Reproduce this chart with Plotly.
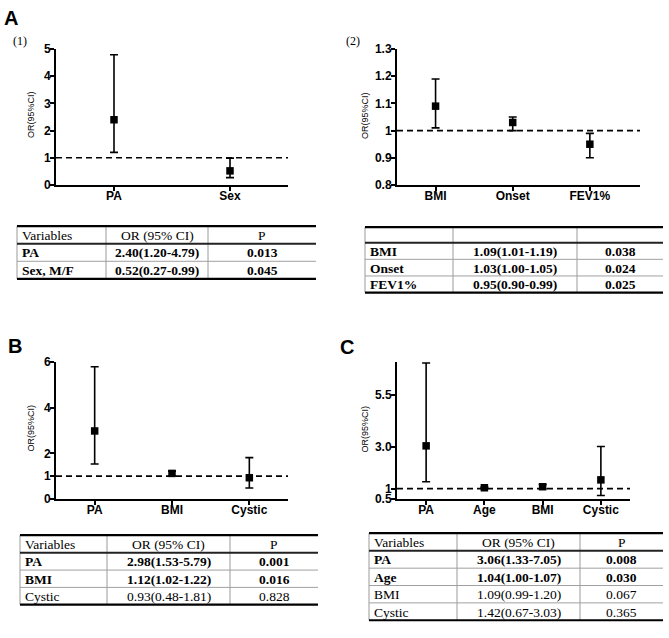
import plotly.graph_objects as go

# ---------------- data ----------------
a1_cats = ["PA", "Sex"]
a1_or = [2.40, 0.52]
a1_lo = [1.20, 0.27]
a1_hi = [4.79, 0.99]

a2_cats = ["BMI", "Onset", "FEV1%"]
a2_or = [1.09, 1.03, 0.95]
a2_lo = [1.01, 1.00, 0.90]
a2_hi = [1.19, 1.05, 0.99]

b_cats = ["PA", "BMI", "Cystic"]
b_or = [2.98, 1.12, 0.93]
b_lo = [1.53, 1.02, 0.48]
b_hi = [5.79, 1.22, 1.81]

c_cats = ["PA", "Age", "BMI", "Cystic"]
c_or = [3.06, 1.04, 1.09, 1.42]
c_lo = [1.33, 1.00, 0.99, 0.67]
c_hi = [7.05, 1.07, 1.20, 3.03]

a1_yticks = [0, 1, 2, 3, 4, 5]
a1_yticktext = ["0", "1", "2", "3", "4", "5"]
a2_yticks = [0.8, 0.9, 1.0, 1.1, 1.2, 1.3]
a2_yticktext = ["0.8", "0.9", "1", "1.1", "1.2", "1.3"]
b_yticks = [0, 1, 2, 4, 6]
b_yticktext = ["0", "1", "2", "4", "6"]
c_yticks = [0.5, 1, 3.0, 5.5]
c_yticktext = ["0.5", "1", "3.0", "5.5"]

header = ["Variables", "OR (95% CI)", "P"]
t1_vars = ["PA", "Sex, M/F"]
t1_or = ["2.40(1.20-4.79)", "0.52(0.27-0.99)"]
t1_p = ["0.013", "0.045"]
t1_bold = [True, True]

t2_vars = ["BMI", "Onset", "FEV1%"]
t2_or = ["1.09(1.01-1.19)", "1.03(1.00-1.05)", "0.95(0.90-0.99)"]
t2_p = ["0.038", "0.024", "0.025"]
t2_bold = [True, True, True]

t3_vars = ["PA", "BMI", "Cystic"]
t3_or = ["2.98(1.53-5.79)", "1.12(1.02-1.22)", "0.93(0.48-1.81)"]
t3_p = ["0.001", "0.016", "0.828"]
t3_bold = [True, True, False]

t4_vars = ["PA", "Age", "BMI", "Cystic"]
t4_or = ["3.06(1.33-7.05)", "1.04(1.00-1.07)", "1.09(0.99-1.20)", "1.42(0.67-3.03)"]
t4_p = ["0.008", "0.030", "0.067", "0.365"]
t4_bold = [True, True, False, False]

# ---------------- layout helpers ----------------
W, H = 669, 638


def fx(p):
    return p / W


def fy(p):
    return 1 - p / H


def bold(lst):
    return ["<b>" + s + "</b>" for s in lst]


fig = go.Figure()
shapes = []
annotations = []

panels = [
    ("", a1_cats, a1_or, a1_lo, a1_hi, (56, 288), (43, 182), [0.5, 2.5], [0, 5], a1_yticks, a1_yticktext, 31),
    ("2", a2_cats, a2_or, a2_lo, a2_hi, (397, 640), (43, 182), [0.5, 3.65], [0.8, 1.3], a2_yticks, a2_yticktext, 365),
    ("3", b_cats, b_or, b_lo, b_hi, (56, 288), (363, 503), [0.5, 3.5], [0, 6], b_yticks, b_yticktext, 31),
    ("4", c_cats, c_or, c_lo, c_hi, (397, 630), (363, 503), [0.5, 4.5], [0.5, 7.1], c_yticks, c_yticktext, 365),
]

tickfont = dict(family="Liberation Sans, Arial", size=12, color="black")

for suf, cats, orv, lo, hi, xpx, ypx, xr, yr, ytv, ytt, ytx in panels:
    xs = list(range(1, len(cats) + 1))
    fig.add_trace(go.Scatter(
        x=xs, y=orv, mode="markers",
        marker=dict(symbol="square", size=7.5, color="black"),
        error_y=dict(type="data", symmetric=False,
                     array=[h - o for h, o in zip(hi, orv)],
                     arrayminus=[o - l for o, l in zip(orv, lo)],
                     color="black", thickness=1.6, width=4),
        xaxis="x" + suf, yaxis="y" + suf, showlegend=False, hoverinfo="skip",
    ))
    axcommon = dict(showline=True, linecolor="black", linewidth=2, showgrid=False,
                    zeroline=False, ticks="outside", ticklen=4, tickwidth=1.5,
                    tickcolor="black", tickfont=tickfont)
    fig.update_layout(**{
        "xaxis" + suf: dict(domain=[fx(xpx[0]), fx(xpx[1])], range=xr,
                            anchor="y" + suf, tickvals=xs, ticktext=bold(cats),
                            ticklabelstandoff=-5, **axcommon),
        "yaxis" + suf: dict(domain=[fy(ypx[1]), fy(ypx[0])], range=yr,
                            anchor="x" + suf, tickvals=ytv, ticktext=bold(ytt),
                            ticklabelstandoff=-3, **axcommon),
    })
    shapes.append(dict(type="line", xref="x" + suf + " domain", yref="y" + suf,
                       x0=0, x1=1, y0=1, y1=1,
                       line=dict(color="black", width=1.6, dash="6px,4px")))
    annotations.append(dict(text="OR(95%CI)", xref="paper", yref="paper",
                            x=fx(ytx), y=fy((ypx[0] + ypx[1]) / 2 - 2), textangle=-90,
                            showarrow=False, xanchor="center", yanchor="middle",
                            font=dict(family="Liberation Sans, Arial", size=9, color="black")))

# panel letters and sub-labels
for txt, x, y in [("A", 11, 11), ("B", 15, 347), ("C", 347, 348)]:
    annotations.append(dict(text="<b>" + txt + "</b>", xref="paper", yref="paper",
                            x=fx(x), y=fy(y), showarrow=False, xanchor="center", yanchor="middle",
                            font=dict(family="Liberation Sans, Arial", size=20, color="black")))
for txt, x, y in [("(1)", 20, 35), ("(2)", 353, 35)]:
    annotations.append(dict(text=txt, xref="paper", yref="paper",
                            x=fx(x), y=fy(y), showarrow=False, xanchor="center", yanchor="middle",
                            font=dict(family="Liberation Serif, Times New Roman", size=12, color="black")))

# ---------------- tables ----------------
tables = [
    (17, 316, (106, 208), 224, 18, 18, header, t1_vars, t1_or, t1_p, t1_bold),
    (365, 663, (453, 577), 225, 16, 17, ["", "", ""], t2_vars, t2_or, t2_p, t2_bold),
    (20, 318, (107, 230), 540, 18, 17.7, header, t3_vars, t3_or, t3_p, t3_bold),
    (369, 663, (457, 580), 538, 18, 17.75, header, t4_vars, t4_or, t4_p, t4_bold),
]

serif = dict(family="Liberation Serif, Times New Roman", size=13.5, color="black")

for left, right, cs, top, hh, rh, hdr, tv, to, tp, tb in tables:
    n = len(tv)
    hline = top + hh
    bottom = hline + n * rh

    def hl(y, w, c):
        shapes.append(dict(type="line", xref="paper", yref="paper",
                           x0=fx(left), x1=fx(right), y0=fy(y), y1=fy(y),
                           line=dict(color=c, width=w)))

    def vl(x):
        shapes.append(dict(type="line", xref="paper", yref="paper",
                           x0=fx(x), x1=fx(x), y0=fy(top), y1=fy(bottom),
                           line=dict(color="#9a9a9a", width=1)))

    for x in (left, cs[0], cs[1]):
        vl(x)
    for i in range(1, n):
        hl(hline + i * rh, 1, "#a0a0a0")
    hl(top, 2.2, "black")
    hl(hline, 2, "#222222")
    hl(bottom, 2.2, "black")

    centers = [left + 3, (cs[0] + cs[1]) / 2, (cs[1] + right) / 2]
    anchors = ["left", "center", "center"]
    for j, t in enumerate(hdr):
        if t:
            annotations.append(dict(text=t, xref="paper", yref="paper",
                                    x=fx(centers[j]), y=fy(top + hh / 2 + 0.5),
                                    xanchor=anchors[j], yanchor="middle",
                                    showarrow=False, font=serif))
    for i in range(n):
        yc = hline + (i + 0.5) * rh + 0.5
        for j, t in enumerate([tv[i], to[i], tp[i]]):
            txt = "<b>" + t + "</b>" if tb[i] else t
            annotations.append(dict(text=txt, xref="paper", yref="paper",
                                    x=fx(centers[j]), y=fy(yc),
                                    xanchor=anchors[j], yanchor="middle",
                                    showarrow=False, font=serif))

fig.update_layout(
    width=W, height=H,
    margin=dict(l=0, r=0, t=0, b=0),
    paper_bgcolor="white", plot_bgcolor="white",
    shapes=shapes, annotations=annotations,
    showlegend=False,
)

fig.write_html("out.html", config={"displayModeBar": False},
               post_script="document.body.style.margin='0';document.body.style.overflow='hidden';")
